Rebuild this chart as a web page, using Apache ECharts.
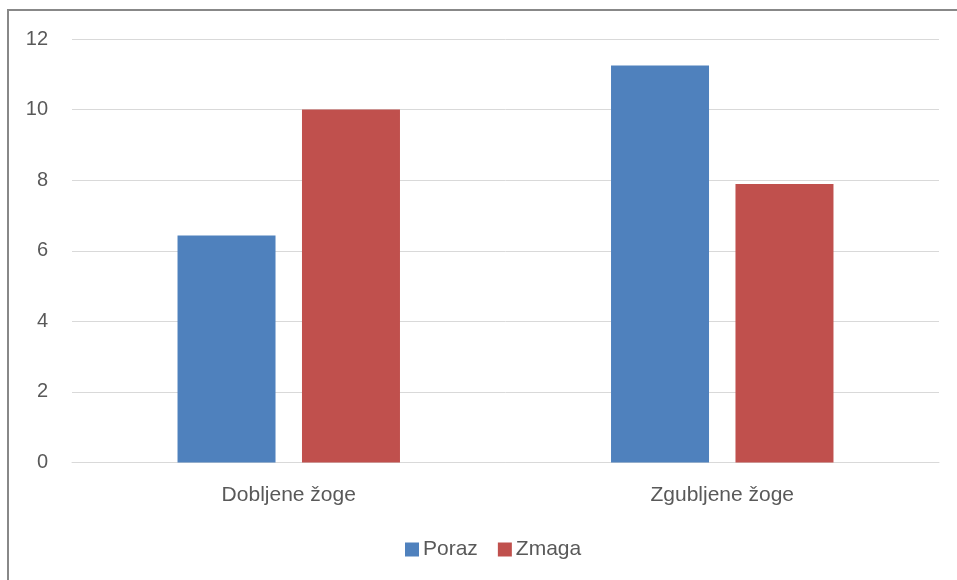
<!DOCTYPE html>
<html>
<head>
<meta charset="utf-8">
<script src="https://cdn.jsdelivr.net/npm/echarts@6/dist/echarts.min.js"></script>
<style>
  html, body { margin: 0; padding: 0; background: #fff; }
  #chart { width: 957px; height: 580px; }
</style>
</head>
<body>
<div id="chart"></div>
<script>
// Categories and series values
const categories = ['Dobljene žoge', 'Zgubljene žoge'];
const porazValues = [6.43, 11.25];
const zmagaValues = [10, 7.89];
const yTicks = { min: 0, max: 12, interval: 2 };

const textColor = '#595959';
const fontFamily = '"Liberation Sans", "Noto Sans", sans-serif';

const chart = echarts.init(document.getElementById('chart'), null, { renderer: 'canvas' });

chart.setOption({
  animation: false,
  backgroundColor: '#ffffff',
  textStyle: { fontFamily: fontFamily },
  graphic: [{
    type: 'rect',
    shape: { x: 8, y: 10, width: 1200, height: 1000 },
    style: { fill: 'none', stroke: '#888888', lineWidth: 2 },
    silent: true
  }],
  grid: { left: 72, right: 18, top: 39, bottom: 117.5 },
  legend: {
    data: ['Poraz', 'Zmaga'],
    top: 534,
    left: 400,
    itemWidth: 14,
    itemHeight: 14,
    itemGap: 20,
    icon: 'rect',
    textStyle: { color: textColor, fontSize: 21, fontFamily: fontFamily, padding: [0, 0, 0, -1] }
  },
  xAxis: {
    type: 'category',
    data: categories,
    axisLine: { show: true, lineStyle: { color: '#D9D9D9', width: 1 } },
    axisTick: { show: false },
    axisLabel: { color: textColor, fontSize: 21, margin: 22, fontFamily: fontFamily }
  },
  yAxis: {
    type: 'value',
    min: yTicks.min,
    max: yTicks.max,
    interval: yTicks.interval,
    axisLine: { show: false },
    axisTick: { show: false },
    axisLabel: { color: textColor, fontSize: 20, margin: 24, fontFamily: fontFamily },
    splitLine: { lineStyle: { color: '#D9D9D9', width: 1 } }
  },
  series: [
    {
      name: 'Poraz',
      type: 'bar',
      data: porazValues,
      barWidth: 98,
      barGap: '27%',
      itemStyle: { color: '#4F81BD' }
    },
    {
      name: 'Zmaga',
      type: 'bar',
      data: zmagaValues,
      barWidth: 98,
      barGap: '27%',
      itemStyle: { color: '#C0504D' }
    }
  ]
});
</script>
</body>
</html>
